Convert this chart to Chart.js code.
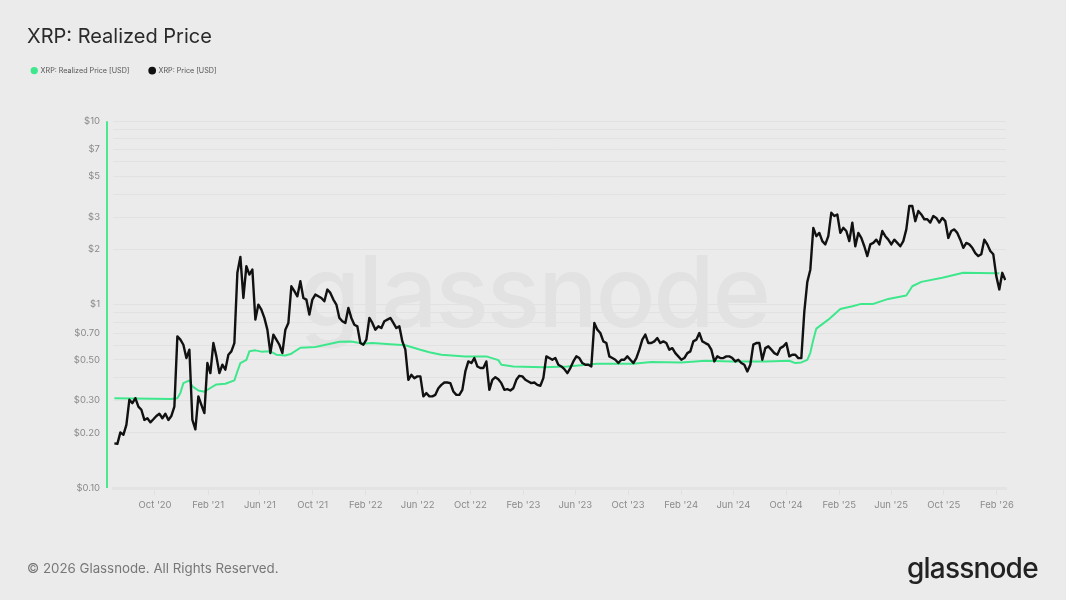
<!DOCTYPE html>
<html><head><meta charset="utf-8">
<script src="https://cdn.jsdelivr.net/npm/chart.js@4"></script>
<style>
html,body{margin:0;padding:0;background:#ebebeb;width:1066px;height:600px;overflow:hidden;position:relative;font-family:Inter,sans-serif}
#c{position:absolute;left:0;top:0;z-index:2}
.t{position:absolute;white-space:nowrap}
#wm{left:299px;top:231px;font:500 99px/120px Inter,sans-serif;color:#e2e2e2;z-index:1;letter-spacing:-2px}
#copy{left:27px;top:560px;font:400 13.3px/16px Inter,sans-serif;color:#777;z-index:3}
#logo{left:907px;top:550px;font:500 28px/36px Inter,sans-serif;color:#222;z-index:3;letter-spacing:-0.8px}
</style></head><body>
<div class="t" id="wm">glassnode</div>
<canvas id="c" width="1066" height="600"></canvas>
<div class="t" id="copy">© 2026 Glassnode. All Rights Reserved.</div>
<div class="t" id="logo">glassnode</div>
<script>
const chartTitle = 'XRP: Realized Price';
const seriesNames = ['XRP: Price [USD]', 'XRP: Realized Price [USD]'];
const tickDates = ['2020-10-01','2021-02-01','2021-06-01','2021-10-01','2022-02-01','2022-06-01','2022-10-01','2023-02-01','2023-06-01','2023-10-01','2024-02-01','2024-06-01','2024-10-01','2025-02-01','2025-06-01','2025-10-01','2026-02-01'];
const tickLabels = ["Oct '20","Feb '21","Jun '21","Oct '21","Feb '22","Jun '22","Oct '22","Feb '23","Jun '23","Oct '23","Feb '24","Jun '24","Oct '24","Feb '25","Jun '25","Oct '25","Feb '26"];
const yGrid = [10,9,8,7,6,5,4,3,2,1,0.9,0.8,0.7,0.6,0.5,0.4,0.3,0.2,0.1];
const yLabelled = {10:'$10',7:'$7',5:'$5',3:'$3',2:'$2',1:'$1',0.7:'$0.70',0.5:'$0.50',0.3:'$0.30',0.2:'$0.20',0.1:'$0.10'};

// price, one reading about every 7 days from the start date
const priceStart = '2020-06-29';
const sampleDays = 6.944;
const price = [
.175,.174,.201,.195,.221,.303,.290,.309,.278,.267,.235,.240,.228,.237,.247,.254,.240,.254,.235,.247,
.278,.671,.644,.604,.511,.568,.235,.209,.316,.284,.256,.480,.423,.617,.522,.423,.470,.442,.533,.556,
.617,1.49,1.82,1.087,1.62,1.458,1.554,.828,1.00,.939,.846,.730,.544,.686,.644,.604,.544,.730,.794,1.259,
1.183,1.110,1.341,1.087,1.065,.882,1.065,1.134,1.110,1.087,1.043,1.208,1.158,1.065,1.00,.846,.811,.794,.959,.846,
.777,.761,.617,.604,.644,.846,.794,.730,.761,.745,.811,.828,.846,.794,.745,.761,.630,.568,.389,.414,
.397,.406,.406,.316,.329,.316,.316,.322,.350,.365,.376,.376,.373,.336,.322,.322,.343,.432,.490,.480,
.511,.460,.451,.451,.490,.343,.389,.402,.392,.373,.343,.346,.340,.350,.389,.409,.406,.389,.381,.373,
.376,.365,.361,.397,.522,.511,.500,.511,.470,.460,.445,.423,.451,.490,.522,.511,.480,.470,.470,.460,
.794,.730,.700,.630,.617,.522,.511,.500,.480,.500,.500,.522,.500,.480,.511,.568,.644,.686,.617,.617,
.630,.657,.617,.630,.617,.568,.579,.544,.522,.500,.511,.544,.556,.630,.644,.700,.630,.617,.605,.568,
.490,.522,.511,.511,.522,.522,.511,.490,.500,.480,.470,.432,.470,.605,.617,.617,.500,.579,.592,.568,
.544,.533,.579,.592,.617,.522,.533,.533,.511,.511,.916,1.33,1.55,2.62,2.36,2.46,2.22,2.13,2.36,3.17,
3.04,3.10,2.46,2.62,2.52,2.22,2.80,2.08,2.46,2.31,2.08,1.84,2.13,2.17,2.26,2.13,2.52,2.36,2.26,2.13,
2.26,2.17,2.08,2.22,2.57,3.45,3.45,2.85,3.24,3.10,2.92,2.92,2.80,3.04,2.97,2.80,2.97,2.85,2.31,2.52,
2.57,2.46,2.26,2.04,2.17,2.13,2.04,1.91,1.84,1.88,2.26,2.13,1.96,1.88,1.43,1.21,1.49,1.36];

// realized price, read at selected sample numbers
const realizedIdx = [0,19,21,22,23,25,26,28,30,32,34,37,40,41,42,44,45,47,49,52,54,57,59,62,67,72,75,79,83,86,92,97,102,105,109,117,124,128,129,133,143,151,161,173,179,189,197,206,217,225,227,229,231,232,233,234,238,242,246,249,253,258,264,266,269,276,283,294,295];
const realizedVal = [.309,.306,.309,.33,.373,.386,.358,.340,.335,.351,.367,.370,.386,.432,.480,.500,.556,.563,.554,.556,.533,.528,.540,.582,.587,.612,.627,.630,.612,.617,.607,.600,.567,.550,.533,.522,.522,.498,.470,.460,.456,.460,.476,.476,.486,.484,.494,.490,.490,.494,.480,.484,.50,.546,.644,.74,.828,.947,.979,1.009,1.009,1.074,1.12,1.259,1.33,1.40,1.49,1.48,1.48];

const DAY = 86400000;
const t0 = Date.parse(priceStart);
const dateOf = i => t0 + i * sampleDays * DAY;
const tickMs = tickDates.map(d => Date.parse(d));
const oct20 = tickMs[0];

const repositionLegend = {
  id: 'repositionLegend',
  afterLayout(chart) {
    const l = chart.legend;
    l.left = 11.5; l.top -= 37; l.bottom -= 37;
  }
};
const railLine = {
  id: 'railLine',
  beforeDatasetsDraw(chart) {
    const y = chart.scales.y, c = chart.ctx, x = chart.chartArea.left - 6;
    c.save(); c.strokeStyle = '#4be88f'; c.lineWidth = 2;
    c.beginPath(); c.moveTo(x, y.top); c.lineTo(x, y.bottom); c.stroke(); c.restore();
  }
};

new Chart(document.getElementById('c'), {
  type: 'line',
  plugins: [repositionLegend, railLine],
  data: { datasets: [
    { label: seriesNames[0], data: price.map((v,i)=>({x:dateOf(i),y:v})), borderColor:'#111', backgroundColor:'#111', borderWidth:2.4, pointRadius:0, tension:0, borderJoinStyle:'round' },
    { label: seriesNames[1], data: realizedIdx.map((k,i)=>({x:dateOf(k),y:realizedVal[i]})), borderColor:'#3fe78c', backgroundColor:'#3fe78c', borderWidth:2, pointRadius:0, tension:0, borderJoinStyle:'round' }
  ]},
  options: {
    responsive:false, animation:false, devicePixelRatio:1,
    layout:{padding:{left:27,right:60,top:0,bottom:82}},
    plugins:{
      title:{display:true,text:chartTitle,align:'start',color:'#2a2a2a',font:{family:'Inter',size:20,weight:'400'},padding:{top:25,bottom:35}},
      legend:{display:true,position:'top',align:'start',
        labels:{usePointStyle:true,pointStyle:'circle',boxWidth:5.5,boxHeight:3.8,padding:20,color:'#555',font:{family:'Inter',size:7.2},
          sort:(a,b)=>b.datasetIndex-a.datasetIndex}},
      tooltip:{enabled:false}
    },
    scales:{
      x:{type:'linear',
        min:oct20-97.2*DAY,max:oct20+1970*DAY,
        afterBuildTicks:s=>{s.ticks=tickMs.map(v=>({value:v}));},
        afterFit:s=>{s.height=30;},
        grid:{display:true,drawOnChartArea:false,drawTicks:true,tickLength:7,color:'#e0e0e0'},
        border:{display:true,color:'#e3e3e3',width:3},
        ticks:{autoSkip:false,maxRotation:0,padding:4,color:'#8a8a8a',font:{family:'Inter',size:9.5},
          callback:v=>tickLabels[tickMs.indexOf(v)]}
      },
      y:{type:'logarithmic',min:0.1,max:10,
        afterBuildTicks:s=>{s.ticks=yGrid.map(v=>({value:v}));},
        afterFit:s=>{s.width=86;},
        grid:{display:true,drawTicks:false,color:'#e2e2e2',lineWidth:1},
        border:{display:false},
        ticks:{autoSkip:false,padding:13,color:'#8a8a8a',font:{family:'Inter',size:9.5},
          callback:v=>yLabelled[v]||''}
      }
    }
  }
});
</script>
</body></html>
